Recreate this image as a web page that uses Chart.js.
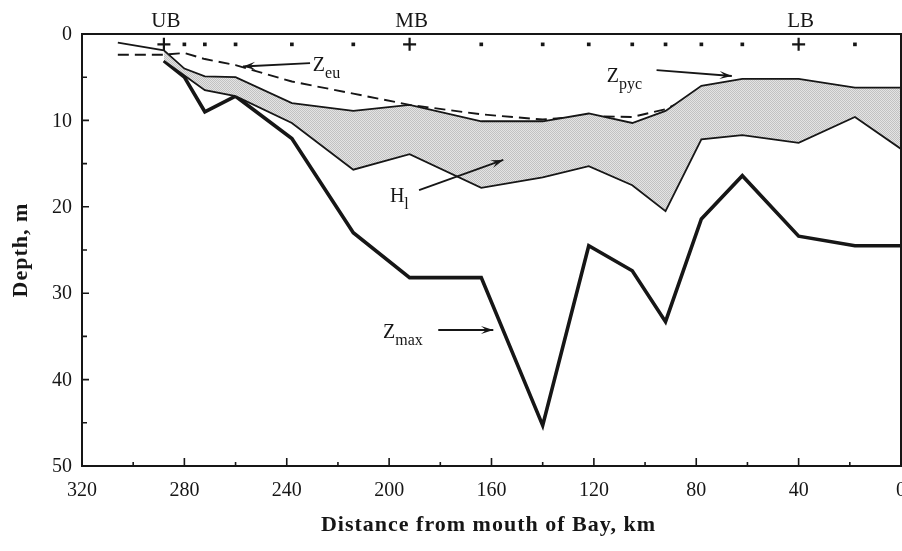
<!DOCTYPE html>
<html>
<head>
<meta charset="utf-8">
<script src="https://cdn.jsdelivr.net/npm/chart.js@4.4.1/dist/chart.umd.min.js"></script>
<style>
  html, body { margin: 0; padding: 0; background: #fff; overflow: hidden; }
  #wrap { width: 902px; height: 551px; position: relative; }
</style>
</head>
<body>
<div id="wrap"><canvas id="c" width="902" height="551"></canvas></div>
<script>
// Depth section along the Bay: distance from the mouth (km) vs depth (m)
const zpycKm     = [306, 288, 280, 272, 260, 238, 214, 192, 164, 140, 122, 105, 92, 78, 62, 40, 18, 0];
const zpycDepth  = [1.0, 1.9, 4.0, 4.9, 5.0, 8.0, 8.9, 8.2, 10.1, 10.1, 9.2, 10.3, 8.9, 6.0, 5.2, 5.2, 6.2, 6.2];

const layerBaseKm    = [288, 272, 260, 238, 214, 192, 164, 140, 122, 105, 92, 78, 62, 40, 18, 0];
const layerBaseDepth = [3.1, 6.5, 7.2, 10.3, 15.7, 13.9, 17.8, 16.6, 15.3, 17.5, 20.5, 12.2, 11.7, 12.6, 9.6, 13.3];

const zeuKm    = [306, 288, 280, 272, 260, 238, 214, 192, 164, 140, 122, 105, 92, 78, 62, 40, 18, 0];
const zeuDepth = [2.4, 2.4, 2.2, 2.9, 3.6, 5.5, 6.9, 8.2, 9.3, 9.9, 9.5, 9.6, 8.7, 6.8, 7.6, 8.2, 8.3, 8.5];

const zmaxKm    = [288, 280, 272, 260, 238, 214, 192, 164, 140, 122, 105, 92, 78, 62, 40, 18, 0];
const zmaxDepth = [3.1, 5.0, 9.0, 7.2, 12.1, 23.0, 28.2, 28.2, 45.3, 24.5, 27.4, 33.3, 21.4, 16.4, 23.4, 24.5, 24.5];

// Sampling stations along the surface; the three base stations are marked with "+"
const stationKm    = [280, 272, 260, 238, 214, 164, 140, 122, 105, 92, 78, 62, 18];
const baseStationKm   = [288, 192, 40];
const baseStationName = ['UB', 'MB', 'LB'];
const stationDepth = 1.2;

// Axis ticks and labels
const xMajorTicks = [320, 280, 240, 200, 160, 120, 80, 40, 0];
const xMinorTicks = [300, 260, 220, 180, 140, 100, 60, 20];
const yMajorTicks = [0, 10, 20, 30, 40, 50];
const yMinorTicks = [5, 15, 25, 35, 45];
const xTitle = 'Distance from mouth of Bay, km';
const yTitle = 'Depth, m';

const pts = (xs, ys) => xs.map((x, i) => ({ x, y: Array.isArray(ys) ? ys[i] : ys }));

// Stippled grey fill for the layer between the pycnocline and its base
function stipple() {
  const c = document.createElement('canvas');
  c.width = 2; c.height = 2;
  const g = c.getContext('2d');
  g.fillStyle = '#e4e4e4'; g.fillRect(0, 0, 2, 2);
  g.fillStyle = '#c2c2c2'; g.fillRect(0, 0, 1, 1); g.fillRect(1, 1, 1, 1);
  return g.createPattern(c, 'repeat');
}

const SERIF = '"Liberation Serif", "DejaVu Serif", serif';
const INK = '#161616';

// Labels with arrows, placed in data units (km, m)
const callouts = [
  { main: 'Z', sub: 'eu',  km: 229.8, depth: 4.28, from: [230.9, 3.36], to: [257.1, 3.76] },
  { main: 'Z', sub: 'pyc', km: 115.0, depth: 5.52, from: [95.5, 4.17],  to: [66.1, 4.86] },
  { main: 'H', sub: 'l',   km: 199.7, depth: 19.4, from: [188.3, 18.06], to: [155.4, 14.58] },
  { main: 'Z', sub: 'max', km: 202.4, depth: 35.2, from: [180.8, 34.26], to: [159.3, 34.26] }
];

function arrow(ctx, x1, y1, x2, y2) {
  const a = Math.atan2(y2 - y1, x2 - x1);
  const L = 13, spread = 0.32;
  ctx.beginPath();
  ctx.moveTo(x1, y1); ctx.lineTo(x2, y2);
  ctx.stroke();
  ctx.beginPath();
  ctx.moveTo(x2 - L * Math.cos(a - spread), y2 - L * Math.sin(a - spread));
  ctx.lineTo(x2, y2);
  ctx.lineTo(x2 - L * Math.cos(a + spread), y2 - L * Math.sin(a + spread));
  ctx.lineTo(x2 - 0.55 * L * Math.cos(a), y2 - 0.55 * L * Math.sin(a));
  ctx.closePath();
  ctx.fill();
}

const decor = {
  id: 'decor',
  afterDatasetsDraw(chart) {
    const { ctx, chartArea: a, scales: { x, y } } = chart;
    ctx.save();
    ctx.strokeStyle = INK; ctx.fillStyle = INK;

    // frame
    ctx.lineWidth = 2;
    ctx.strokeRect(a.left, a.top, a.right - a.left, a.bottom - a.top);

    // inward ticks
    ctx.lineWidth = 1.6;
    ctx.beginPath();
    xMajorTicks.forEach(v => { const p = x.getPixelForValue(v); ctx.moveTo(p, a.bottom); ctx.lineTo(p, a.bottom - 8); });
    xMinorTicks.forEach(v => { const p = x.getPixelForValue(v); ctx.moveTo(p, a.bottom); ctx.lineTo(p, a.bottom - 4); });
    yMajorTicks.forEach(v => { const p = y.getPixelForValue(v); ctx.moveTo(a.left, p); ctx.lineTo(a.left + 7, p); });
    yMinorTicks.forEach(v => { const p = y.getPixelForValue(v); ctx.moveTo(a.left, p); ctx.lineTo(a.left + 5, p); });
    ctx.stroke();

    // tick labels
    ctx.font = '20px ' + SERIF;
    ctx.textAlign = 'center'; ctx.textBaseline = 'alphabetic';
    xMajorTicks.forEach(v => ctx.fillText(String(v), x.getPixelForValue(v), a.bottom + 30));
    ctx.textAlign = 'right'; ctx.textBaseline = 'middle';
    yMajorTicks.forEach(v => ctx.fillText(String(v), a.left - 10, y.getPixelForValue(v) + 1));

    // axis titles
    ctx.font = 'bold 22px ' + SERIF;
    ctx.letterSpacing = '1px';
    ctx.textAlign = 'center'; ctx.textBaseline = 'alphabetic';
    ctx.fillText(xTitle, (a.left + a.right) / 2 - 3, a.bottom + 65);
    ctx.save();
    ctx.translate(27, (a.top + a.bottom) / 2);
    ctx.rotate(-Math.PI / 2);
    ctx.fillText(yTitle, 0, 0);
    ctx.restore();
    ctx.letterSpacing = '0px';

    // base station names above the frame
    ctx.font = '21px ' + SERIF;
    ctx.textAlign = 'center'; ctx.textBaseline = 'alphabetic';
    baseStationKm.forEach((k, i) => ctx.fillText(baseStationName[i], x.getPixelForValue(k) + 2, a.top - 7));

    // callouts
    ctx.lineWidth = 1.8;
    callouts.forEach(c => {
      const tx = x.getPixelForValue(c.km), ty = y.getPixelForValue(c.depth);
      ctx.textAlign = 'left'; ctx.textBaseline = 'alphabetic';
      ctx.font = '20px ' + SERIF;
      ctx.fillText(c.main, tx, ty);
      const w = ctx.measureText(c.main).width;
      ctx.font = '16px ' + SERIF;
      ctx.fillText(c.sub, tx + w, ty + 7);
      arrow(ctx, x.getPixelForValue(c.from[0]), y.getPixelForValue(c.from[1]),
                 x.getPixelForValue(c.to[0]), y.getPixelForValue(c.to[1]));
    });
    ctx.restore();
  }
};

const line = (data, extra) => Object.assign({
  type: 'line', data, borderColor: INK, borderWidth: 1.8, pointRadius: 0,
  tension: 0, fill: false
}, extra);

new Chart(document.getElementById('c'), {
  data: {
    datasets: [
      line(pts(zpycKm, zpycDepth), { label: 'Zpyc' }),
      line(pts(layerBaseKm, layerBaseDepth), { label: 'Hl', fill: '-1', backgroundColor: stipple() }),
      line(pts(zeuKm, zeuDepth), { label: 'Zeu', borderDash: [11, 6], borderWidth: 1.9 }),
      line(pts(zmaxKm, zmaxDepth), { label: 'Zmax', borderWidth: 3.6, borderJoinStyle: 'miter' }),
      { type: 'scatter', label: 'stations', data: pts(stationKm, stationDepth),
        pointStyle: 'rect', pointRadius: 2.6, backgroundColor: INK, borderColor: INK, borderWidth: 0 },
      { type: 'scatter', label: 'base stations', data: pts(baseStationKm, stationDepth),
        pointStyle: 'cross', pointRadius: 6.5, borderColor: INK, borderWidth: 2.2 }
    ]
  },
  options: {
    responsive: false,
    animation: false,
    devicePixelRatio: 1,
    layout: { autoPadding: false, padding: { left: 82, right: 1, top: 34, bottom: 85 } },
    plugins: { legend: { display: false }, tooltip: { enabled: false } },
    scales: {
      x: { type: 'linear', min: 0, max: 320, reverse: true, display: false },
      y: { type: 'linear', min: 0, max: 50, reverse: true, display: false }
    }
  },
  plugins: [decor]
});
</script>
</body>
</html>
